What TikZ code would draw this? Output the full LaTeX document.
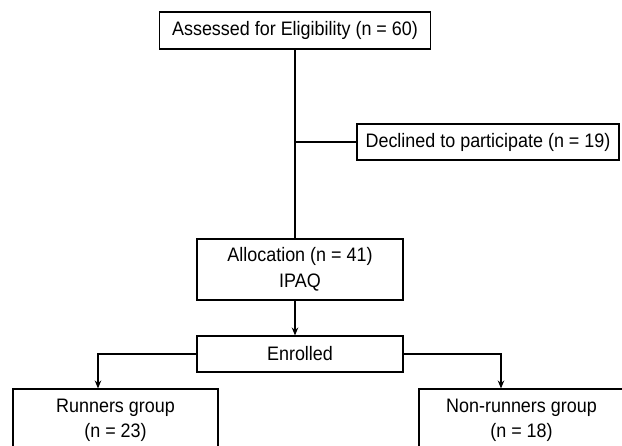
\documentclass[tikz,border=0pt]{standalone}
\usepackage{fontspec}
\setmainfont{Liberation Sans}[FakeStretch=0.92]
\usetikzlibrary{arrows.meta, positioning}
\tikzset{
  stage/.style={
    rectangle,
    draw=black,
    line width=1.1pt,
    align=center,
    inner sep=0pt,
    font=\fontsize{19.5}{25}\selectfont,
    fill=white
    },
  arrow/.style={line width=1.1pt,-{Stealth[length=8pt,width=6.5pt]}},
  link/.style={line width=1.1pt}
}
\begin{document}
\begin{tikzpicture}[x=1pt,y=-1pt]
\fill[white] (0,0) rectangle (622,446);
\clip (0,0) rectangle (622,446);
\node (assess) [stage, minimum width=271pt, minimum height=37pt] at (295,30.5) {Assessed for Eligibility (n = 60)};
\node (declined) [stage, minimum width=262pt, minimum height=36pt] at (488,142) {Declined to participate (n = 19)};
\node (alloc) [stage, minimum width=206pt, minimum height=61pt, font=\fontsize{19.5}{26}\selectfont] at (300,269.5) {Allocation (n = 41)\\IPAQ};
\node (enrol) [stage, minimum width=206pt, minimum height=36pt] at (300,354) {Enrolled};
\node (runners) [stage, minimum width=205pt, minimum height=62pt] at (115.5,420) {Runners group\\(n = 23)};
\node (nonrun) [stage, minimum width=205pt, minimum height=62pt] at (521.5,420) {Non-runners group\\(n = 18)};
% links
\draw[link] (assess.south) -- (assess.south |- alloc.north);
\draw[link] (assess.south |- declined.west) -- (declined.west);
\draw[arrow] (alloc.south -| assess.south) -- (enrol.north -| assess.south);
\draw[arrow] (enrol.west) -| ([xshift=-17.5pt]runners.north);
\draw[arrow] (enrol.east) -| ([xshift=-20.5pt]nonrun.north);
\end{tikzpicture}
\end{document}
